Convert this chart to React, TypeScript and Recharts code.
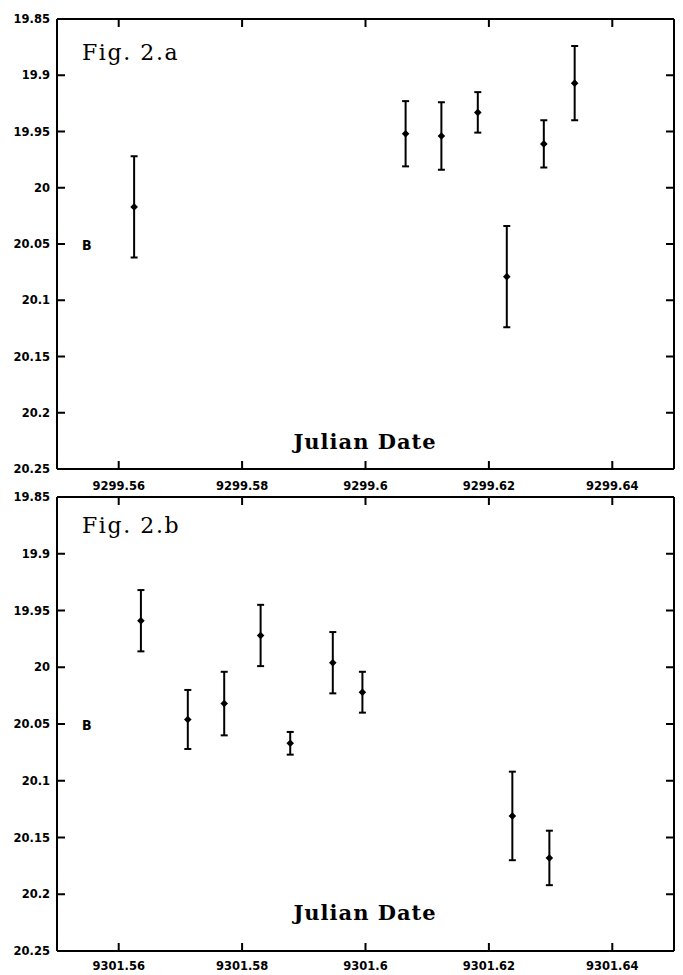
import React from 'react';
import { ScatterChart, Scatter, XAxis, YAxis, ErrorBar, ReferenceLine } from 'recharts';

// Fig. 2.a (JD 9299)
const datesA = [9299.5625, 9299.6065, 9299.6123, 9299.6182, 9299.6229, 9299.6289, 9299.6339];
const magsA = [20.017, 19.952, 19.954, 19.933, 20.079, 19.961, 19.907];
const errsA = [0.045, 0.029, 0.030, 0.018, 0.045, 0.021, 0.033];

// Fig. 2.b (JD 9301)
const datesB = [9301.5636, 9301.5712, 9301.5771, 9301.583, 9301.5878, 9301.5947, 9301.5995, 9301.6238, 9301.6298];
const magsB = [19.959, 20.046, 20.032, 19.972, 20.067, 19.996, 20.022, 20.131, 20.168];
const errsB = [0.027, 0.026, 0.028, 0.027, 0.010, 0.027, 0.018, 0.039, 0.024];

const magTicks = [19.85, 19.9, 19.95, 20, 20.05, 20.1, 20.15, 20.2, 20.25];
const magDomain = [19.85, 20.25];
const dateTicksA = [9299.56, 9299.58, 9299.6, 9299.62, 9299.64];
const dateTicksB = [9301.56, 9301.58, 9301.6, 9301.62, 9301.64];
const dateDomainA = [9299.55, 9299.65];
const dateDomainB = [9301.55, 9301.65];

const titles = ['Fig. 2.a', 'Fig. 2.b'];
const xTitle = 'Julian Date';
const bandLabel = 'B';

const fmt = (v: number) => String(parseFloat(Number(v).toFixed(2)));

const build = (d: number[], m: number[], e: number[]) =>
  d.map((date, i) => ({ date, mag: m[i], err: e[i] }));

const Diamond = (props: any) => {
  const { cx, cy } = props;
  if (cx == null || cy == null) return <g />;
  const r = 3.8;
  return (
    <polygon
      points={`${cx},${cy - r} ${cx + r},${cy} ${cx},${cy + r} ${cx - r},${cy}`}
      fill="#000"
    />
  );
};

const FONT = '"DejaVu Sans", sans-serif';
const TICK_LEN = 8;
const PLOT_LEFT = 57;
const PLOT_RIGHT = 674;
const PLOT_W = PLOT_RIGHT - PLOT_LEFT;

const tickPath = (d: string) => (
  <path d={d} stroke="#000" strokeWidth={2} fill="none" />
);

// bottom axis tick: label below, inward tick at bottom and at top of frame
const makeXTick = (plotH: number, gap: number) => (props: any) => {
  const x = Number(props.x);
  const y = Number(props.y);
  return (
    <g>
      {tickPath(`M${x},${y}V${y - TICK_LEN}M${x},${y - plotH}V${y - plotH + TICK_LEN}`)}
      <text
        x={x}
        y={y + gap}
        dy="0.71em"
        textAnchor="middle"
        fill="#000"
        fontFamily={FONT}
        fontWeight={700}
        fontSize={11.5}
      >
        {fmt(props.payload.value)}
      </text>
    </g>
  );
};

// left axis tick: label at left, inward tick on left and right frame
const makeYTick = () => (props: any) => {
  const x = Number(props.x);
  const y = Number(props.y);
  return (
    <g>
      {tickPath(`M${x},${y}H${x + TICK_LEN}M${x + PLOT_W},${y}H${x + PLOT_W - TICK_LEN}`)}
      <text
        x={x - 7}
        y={y}
        dy="0.355em"
        textAnchor="end"
        fill="#000"
        fontFamily={FONT}
        fontWeight={700}
        fontSize={11.5}
      >
        {fmt(props.payload.value)}
      </text>
    </g>
  );
};

type PanelProps = {
  data: { date: number; mag: number; err: number }[];
  xDomain: number[];
  xTicks: number[];
  height: number;
  top: number;
  bottom: number;
  gap: number;
};

const axisStroke = { stroke: '#000', strokeWidth: 2 };

const Panel = ({ data, xDomain, xTicks, height, top, bottom, gap }: PanelProps) => {
  const plotH = height - top - bottom;
  return (
    <ScatterChart
      width={683}
      height={height}
      margin={{ top, right: 683 - PLOT_RIGHT, bottom: 0, left: 0 }}
    >
      <XAxis
        dataKey="date"
        type="number"
        domain={xDomain}
        ticks={xTicks}
        allowDataOverflow
        height={bottom}
        tickSize={0}
        tickMargin={0}
        axisLine={axisStroke}
        tickLine={false}
        tick={makeXTick(plotH, gap)}
        interval={0}
      />
      <YAxis
        dataKey="mag"
        type="number"
        domain={magDomain}
        ticks={magTicks}
        reversed
        allowDataOverflow
        width={PLOT_LEFT}
        tickSize={0}
        tickMargin={0}
        axisLine={axisStroke}
        tickLine={false}
        tick={makeYTick()}
        interval={0}
      />
      <ReferenceLine y={magDomain[0]} stroke="#000" strokeWidth={2} ifOverflow="visible" />
      <ReferenceLine x={xDomain[1]} stroke="#000" strokeWidth={2} ifOverflow="visible" />
      <Scatter data={data} dataKey="mag" shape={<Diamond />} isAnimationActive={false}>
        <ErrorBar
          dataKey="err"
          direction="y"
          width={3.5}
          stroke="#000"
          strokeWidth={2}
          isAnimationActive={false}
        />
      </Scatter>
    </ScatterChart>
  );
};

const serifTitle = {
  fontFamily: '"DejaVu Serif", serif',
  fill: '#000',
};

export default function App() {
  const dataA = build(datesA, magsA, errsA);
  const dataB = build(datesB, magsB, errsB);
  return (
    <div
      style={{
        position: 'absolute',
        left: 0,
        top: 0,
        width: 683,
        height: 975,
        background: '#fff',
        overflow: 'hidden',
      }}
    >
      <div style={{ position: 'absolute', left: 0, top: 0 }}>
        <Panel data={dataA} xDomain={dateDomainA} xTicks={dateTicksA} height={495} top={19} bottom={26} gap={13} />
      </div>
      <div style={{ position: 'absolute', left: 0, top: 487 }}>
        <Panel data={dataB} xDomain={dateDomainB} xTicks={dateTicksB} height={488} top={10} bottom={24} gap={11} />
      </div>
      <svg
        width={683}
        height={975}
        style={{ position: 'absolute', left: 0, top: 0, pointerEvents: 'none' }}
      >
        <text x={82} y={60} fontSize={22} letterSpacing={1.6} style={serifTitle}>{titles[0]}</text>
        <text x={82} y={533} fontSize={22} letterSpacing={1.6} style={serifTitle}>{titles[1]}</text>
        <text x={365} y={449} fontSize={21} fontWeight={700} letterSpacing={1} textAnchor="middle" style={serifTitle}>{xTitle}</text>
        <text x={365} y={920} fontSize={21} fontWeight={700} letterSpacing={1} textAnchor="middle" style={serifTitle}>{xTitle}</text>
        <text x={82} y={250} fontSize={14} fontWeight={700} fontFamily='"Liberation Sans Narrow", "DejaVu Sans Condensed", sans-serif' fill="#000">{bandLabel}</text>
        <text x={82} y={730} fontSize={14} fontWeight={700} fontFamily='"Liberation Sans Narrow", "DejaVu Sans Condensed", sans-serif' fill="#000">{bandLabel}</text>
      </svg>
    </div>
  );
}
